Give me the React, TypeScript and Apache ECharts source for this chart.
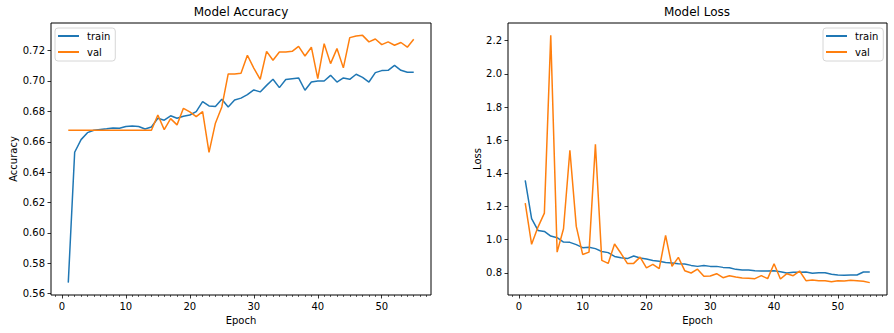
import React, { useEffect, useRef } from "react";
import * as echarts from "echarts";

const epochs = [
  1, 2, 3, 4, 5, 6, 7, 8, 9, 10, 11, 12, 13, 14, 15, 16, 17, 18, 19, 20,
  21, 22, 23, 24, 25, 26, 27, 28, 29, 30, 31, 32, 33, 34, 35, 36, 37, 38, 39, 40,
  41, 42, 43, 44, 45, 46, 47, 48, 49, 50, 51, 52, 53, 54, 55,
];

const accTrain = [
  0.5673, 0.6531, 0.6614, 0.666, 0.6676, 0.6681, 0.6685, 0.669, 0.6689, 0.67,
  0.6703, 0.67, 0.6684, 0.6697, 0.6755, 0.6742, 0.6771, 0.6755, 0.6768, 0.6776,
  0.6798, 0.6864, 0.6836, 0.6832, 0.688, 0.6829, 0.6875, 0.6887, 0.691, 0.6941,
  0.6928, 0.6971, 0.7011, 0.6956, 0.7009, 0.7015, 0.702, 0.6939, 0.6993, 0.7,
  0.7, 0.7037, 0.6993, 0.702, 0.7011, 0.7044, 0.7024, 0.6993, 0.7055, 0.7068,
  0.707, 0.7103, 0.707, 0.7057, 0.7057,
];

const accVal = [
  0.6676, 0.6676, 0.6676, 0.6676, 0.6676, 0.6676, 0.6676, 0.6676, 0.6676, 0.6676,
  0.6676, 0.6676, 0.6676, 0.6676, 0.6776, 0.668, 0.6752, 0.6711, 0.682, 0.6796,
  0.6765, 0.6798, 0.653, 0.6722, 0.6829, 0.7046, 0.7046, 0.705, 0.7169, 0.7085,
  0.7011, 0.7195, 0.7136, 0.7191, 0.7191, 0.7195, 0.7228, 0.7164, 0.7222, 0.7015,
  0.7245, 0.7114, 0.7213, 0.7086, 0.7285, 0.7296, 0.73, 0.7257, 0.7276, 0.7239,
  0.7257, 0.7235, 0.7253, 0.7222, 0.7274,
];

const lossTrain = [
  1.358, 1.127, 1.056, 1.05, 1.022, 1.012, 0.986, 0.984, 0.97, 0.952,
  0.955, 0.946, 0.929, 0.922, 0.899, 0.891, 0.886, 0.902, 0.89, 0.883,
  0.875, 0.87, 0.862, 0.86, 0.855, 0.853, 0.845, 0.839, 0.845, 0.839,
  0.839, 0.833, 0.831, 0.821, 0.817, 0.817, 0.813, 0.811, 0.811, 0.813,
  0.807, 0.799, 0.803, 0.803, 0.805, 0.797, 0.801, 0.801, 0.791, 0.787,
  0.785, 0.787, 0.787, 0.805, 0.805,
];

const lossVal = [
  1.221, 0.972, 1.076, 1.16, 2.232, 0.925, 1.066, 1.539, 1.08, 0.911,
  0.925, 1.575, 0.875, 0.857, 0.974, 0.918, 0.857, 0.857, 0.895, 0.83,
  0.851, 0.825, 1.026, 0.839, 0.893, 0.813, 0.799, 0.822, 0.779, 0.781,
  0.795, 0.771, 0.783, 0.775, 0.769, 0.767, 0.765, 0.783, 0.765, 0.855,
  0.763, 0.795, 0.783, 0.811, 0.753, 0.757, 0.753, 0.753, 0.747, 0.753,
  0.751, 0.755, 0.753, 0.749, 0.741,
];

const xMajorTicks = [0, 10, 20, 30, 40, 50];
const xMinorTicks = [
  -1, 1, 2, 3, 4, 5, 6, 7, 8, 9, 11, 12, 13, 14, 15, 16, 17, 18, 19,
  21, 22, 23, 24, 25, 26, 27, 28, 29, 31, 32, 33, 34, 35, 36, 37, 38, 39,
  41, 42, 43, 44, 45, 46, 47, 48, 49, 51, 52, 53, 54, 55, 56, 57,
];
const accTicks = [0.56, 0.58, 0.6, 0.62, 0.64, 0.66, 0.68, 0.7, 0.72];
const lossTicks = [0.8, 1.0, 1.2, 1.4, 1.6, 1.8, 2.0, 2.2];

const seriesNames = ["train", "val"];
const titles = ["Model Accuracy", "Model Loss"];
const yNames = ["Accuracy", "Loss"];

const FONT = "DejaVu Sans";
const BLUE = "#1f77b4";
const ORANGE = "#ff7f0e";

function padded(values: number[]) {
  const lo = Math.min(...values);
  const hi = Math.max(...values);
  const m = (hi - lo) * 0.05;
  return { min: lo - m, max: hi + m };
}

export default function App() {
  const ref = useRef<HTMLDivElement>(null);

  useEffect(() => {
    if (!ref.current) return;
    const chart = echarts.init(ref.current, undefined, { renderer: "svg" });

    const xr = padded(epochs);
    const accR = padded([...accTrain, ...accVal]);
    const lossR = padded([...lossTrain, ...lossVal]);

    const txt = { fontFamily: FONT, fontSize: 10, color: "#000" };

    const majorX = (gridIndex: number) => ({
      gridIndex,
      type: "value",
      position: "bottom",
      min: xr.min,
      max: xr.max,
      name: "Epoch",
      nameLocation: "middle",
      nameGap: 18,
      nameTextStyle: { ...txt },
      axisLine: { show: false, onZero: false },
      axisTick: {
        show: true,
        length: 3.5,
        customValues: xMajorTicks,
        lineStyle: { color: "#000", width: 0.8 },
      },
      axisLabel: {
        customValues: xMajorTicks,
        margin: 6,
        ...txt,
        formatter: (v: number) => String(Math.round(v)),
      },
      splitLine: { show: false },
    });
    const minorX = (gridIndex: number) => ({
      gridIndex,
      type: "value",
      position: "bottom",
      min: xr.min,
      max: xr.max,
      axisLine: { show: false, onZero: false },
      axisTick: {
        show: true,
        length: 2,
        customValues: xMinorTicks,
        lineStyle: { color: "#000", width: 0.6 },
      },
      axisLabel: { show: false },
      splitLine: { show: false },
    });

    const yAx = (gridIndex: number, r: any, ticks: number[], digits: number, name: string, gap: number) => ({
      gridIndex,
      type: "value",
      min: r.min,
      max: r.max,
      name,
      nameLocation: "middle",
      nameGap: gap,
      nameTextStyle: { ...txt },
      axisLine: { show: false, onZero: false },
      axisTick: {
        show: true,
        length: 3.5,
        customValues: ticks,
        lineStyle: { color: "#000", width: 0.8 },
      },
      axisLabel: {
        customValues: ticks,
        margin: 6,
        ...txt,
        formatter: (v: number) => v.toFixed(digits),
      },
      splitLine: { show: false },
    });

    const legend = (left: number) => ({
      orient: "vertical",
      left,
      top: 28,
      padding: [2, 5, 3, 3],
      itemGap: 4,
      itemWidth: 21,
      itemHeight: 2,
      icon: "rect",
      backgroundColor: "#fff",
      borderColor: "#d6d6d6",
      borderWidth: 1,
      borderRadius: 3,
      selectedMode: false,
      textStyle: { ...txt, lineHeight: 12, padding: [0, 0, 0, 3] },
      data: seriesNames,
    });

    const line = (name: string, ys: number[], color: string, idx: number) => ({
      name,
      type: "line",
      xAxisIndex: idx * 2,
      yAxisIndex: idx,
      symbol: "none",
      showSymbol: false,
      lineStyle: { color, width: 1.5 },
      itemStyle: { color },
      data: epochs.map((e, i) => [e, ys[i]]),
    });

    chart.setOption({
      animation: false,
      backgroundColor: "#fff",
      title: [
        {
          text: titles[0],
          left: 241,
          top: 6,
          padding: 0,
          textAlign: "center",
          textStyle: { fontFamily: FONT, fontSize: 12, fontWeight: "normal", color: "#000" },
        },
        {
          text: titles[1],
          left: 697,
          top: 6,
          padding: 0,
          textAlign: "center",
          textStyle: { fontFamily: FONT, fontSize: 12, fontWeight: "normal", color: "#000" },
        },
      ],
      legend: [legend(55), legend(823)],
      grid: [
        { left: 51, top: 23, width: 380, height: 272, show: true, borderColor: "#000", borderWidth: 1, backgroundColor: "transparent" },
        { left: 508, top: 23, width: 379, height: 272, show: true, borderColor: "#000", borderWidth: 1, backgroundColor: "transparent" },
      ],
      xAxis: [majorX(0), minorX(0), majorX(1), minorX(1)],
      yAxis: [
        yAx(0, accR, accTicks, 2, yNames[0], 33),
        yAx(1, lossR, lossTicks, 1, yNames[1], 25),
      ],
      series: [
        line(seriesNames[0], accTrain, BLUE, 0),
        line(seriesNames[1], accVal, ORANGE, 0),
        line(seriesNames[0], lossTrain, BLUE, 1),
        line(seriesNames[1], lossVal, ORANGE, 1),
      ],
    });

    return () => chart.dispose();
  }, []);

  return (
    <div
      ref={ref}
      style={{ position: "absolute", left: 0, top: 0, width: 894, height: 333 }}
    />
  );
}
